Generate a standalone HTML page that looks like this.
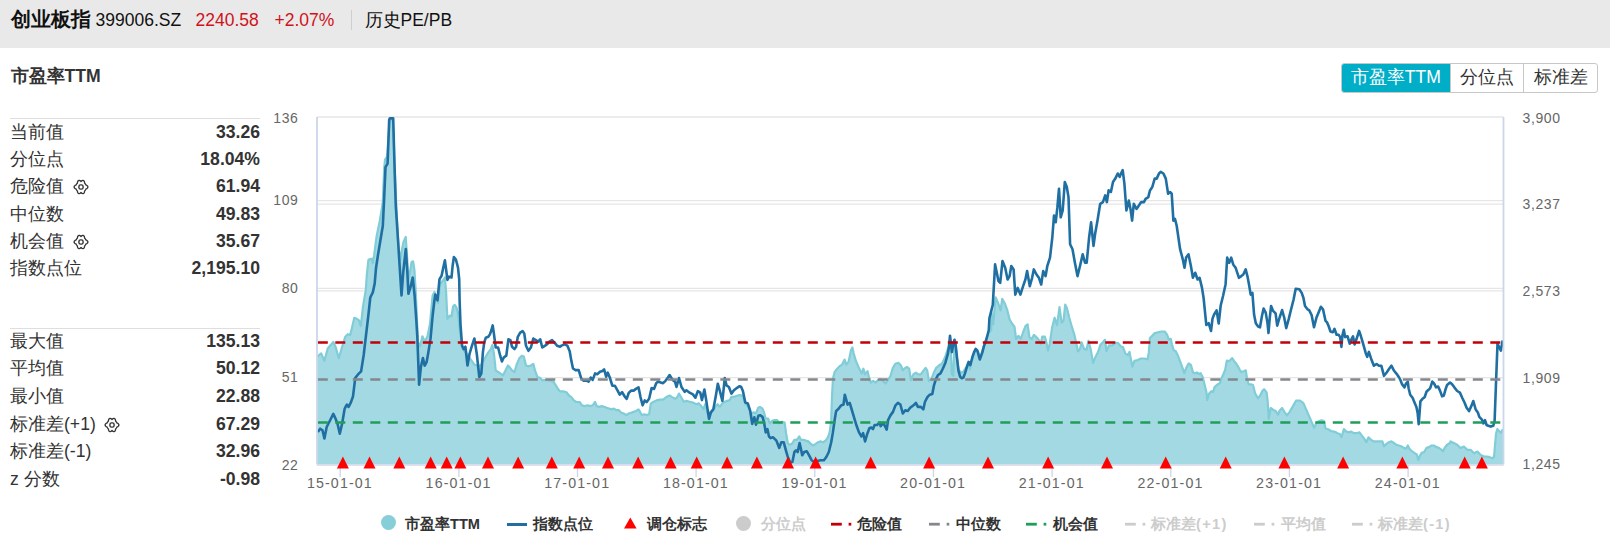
<!DOCTYPE html>
<html><head><meta charset="utf-8"><title>创业板指 历史PE/PB</title>
<style>
*{box-sizing:border-box}
html,body{margin:0;padding:0}
body{width:1610px;height:550px;overflow:hidden;background:#fff;position:relative;font-family:"Liberation Sans",sans-serif;color:#333}
.hd{position:absolute;left:0;top:0;width:1610px;height:48px;background:#e9e9e9}
.hd span{position:absolute;white-space:nowrap;line-height:20px}
.t1{left:11px;top:9px;font-size:20px;font-weight:bold;color:#111}
.t2{left:95.5px;top:10px;font-size:17.5px;color:#111}
.t3{left:195.5px;top:10px;font-size:17.5px;color:#d0121b}
.t4{left:274.5px;top:10px;font-size:17.5px;color:#d0121b}
.sep{position:absolute;left:351px;top:10px;width:1px;height:20px;background:#cfcfcf}
.t5{left:364.5px;top:10px;font-size:17.5px;color:#111}
.ttl{position:absolute;left:10.5px;top:65.5px;font-size:17.6px;font-weight:bold;line-height:20px;white-space:nowrap}
.hr{position:absolute;left:10px;width:250px;height:1px;background:#dedede}
.row{position:absolute;left:10px;width:250px;height:27.35px;line-height:27.35px;font-size:17.6px;white-space:nowrap}
.row .val{position:absolute;right:0;top:0;font-weight:bold}
.row .gear{position:absolute;top:5.2px}
.btns{position:absolute;left:1341px;top:63px;height:30px;border:1px solid #c8c8c8;border-radius:3px;display:flex;overflow:hidden}
.btns div{height:28px;line-height:26.5px;font-size:17.6px;color:#333;text-align:center}
.btns .on{background:#00aec8;color:#fff}
.chart{position:absolute;left:0;top:0}
.axl{font-family:"Liberation Sans",sans-serif;font-size:14px;fill:#666;letter-spacing:0.6px}
.xl{font-size:14.2px;letter-spacing:1.15px}
.lg{position:absolute;top:515px;width:16px;height:16px}
.dot{display:block;width:15px;height:15px;border-radius:50%}
.lgs{position:absolute}
.lt{position:absolute;top:514px;font-size:14.6px;font-weight:bold;line-height:20px;color:#333;white-space:nowrap}
.lt.off{color:#cccccc}
.lt .nb{font-weight:normal}
.lt .ls{letter-spacing:1.3px}
</style></head><body>
<div class="hd">
<span class="t1">创业板指</span>
<span class="t2">399006.SZ</span>
<span class="t3">2240.58</span>
<span class="t4">+2.07%</span>
<div class="sep"></div>
<span class="t5">历史PE/PB</span>
</div>
<div class="ttl">市盈率TTM</div>
<div class="btns"><div class="on" style="width:107.5px">市盈率TTM</div><div style="width:73.5px;border-left:1px solid #c8c8c8">分位点</div><div style="width:74px;border-left:1px solid #c8c8c8">标准差</div></div>
<div class="hr" style="top:118px"></div>
<div class="row" style="top:118.50px"><span class="lab">当前值</span><span class="val">33.26</span></div><div class="row" style="top:145.85px"><span class="lab">分位点</span><span class="val">18.04%</span></div><div class="row" style="top:173.20px"><span class="lab">危险值</span><svg class="gear" style="left:61.9px" width="18" height="18" viewBox="-9 -9 18 18"><path d="M6.90 -0.00 L6.85 -0.36 L6.72 -0.71 L6.50 -1.03 L6.21 -1.32 L5.86 -1.57 L5.47 -1.78 L5.05 -1.94 L4.84 -2.16 L4.72 -2.41 L4.59 -2.65 L4.44 -2.89 L4.29 -3.12 L4.12 -3.34 L3.94 -3.55 L3.75 -3.75 L3.55 -3.94 L3.55 -4.38 L3.51 -4.83 L3.41 -5.25 L3.25 -5.64 L3.04 -5.97 L2.78 -6.24 L2.47 -6.44 L2.13 -6.55 L1.76 -6.57 L1.38 -6.50 L1.01 -6.35 L0.64 -6.13 L0.31 -5.85 L0.00 -5.53 L-0.31 -5.85 L-0.64 -6.13 L-1.01 -6.35 L-1.38 -6.50 L-1.76 -6.57 L-2.13 -6.55 L-2.47 -6.44 L-2.78 -6.24 L-3.04 -5.97 L-3.25 -5.64 L-3.41 -5.25 L-3.51 -4.83 L-3.55 -4.38 L-3.55 -3.94 L-3.75 -3.75 L-3.94 -3.55 L-4.12 -3.34 L-4.29 -3.12 L-4.44 -2.89 L-4.59 -2.65 L-4.72 -2.41 L-4.84 -2.16 L-5.05 -1.94 L-5.47 -1.78 L-5.86 -1.57 L-6.21 -1.32 L-6.50 -1.03 L-6.72 -0.71 L-6.85 -0.36 L-6.90 -0.00 L-6.85 0.36 L-6.72 0.71 L-6.50 1.03 L-6.21 1.32 L-5.86 1.57 L-5.47 1.78 L-5.05 1.94 L-4.84 2.16 L-4.72 2.41 L-4.59 2.65 L-4.44 2.89 L-4.29 3.12 L-4.12 3.34 L-3.94 3.55 L-3.75 3.75 L-3.55 3.94 L-3.55 4.38 L-3.51 4.83 L-3.41 5.25 L-3.25 5.64 L-3.04 5.97 L-2.78 6.24 L-2.47 6.44 L-2.13 6.55 L-1.76 6.57 L-1.38 6.50 L-1.01 6.35 L-0.64 6.13 L-0.31 5.85 L-0.00 5.53 L0.31 5.85 L0.64 6.13 L1.01 6.35 L1.38 6.50 L1.76 6.57 L2.13 6.55 L2.47 6.44 L2.78 6.24 L3.04 5.97 L3.25 5.64 L3.41 5.25 L3.51 4.83 L3.55 4.38 L3.55 3.94 L3.75 3.75 L3.94 3.55 L4.12 3.34 L4.29 3.12 L4.44 2.89 L4.59 2.65 L4.72 2.41 L4.84 2.16 L5.05 1.94 L5.47 1.78 L5.86 1.57 L6.21 1.32 L6.50 1.03 L6.72 0.71 L6.85 0.36 Z" fill="none" stroke="#333" stroke-width="1.3" stroke-linejoin="round"/><rect x="-2.1" y="-2.1" width="4.2" height="4.2" rx="1.7" fill="none" stroke="#333" stroke-width="1.4"/></svg><span class="val">61.94</span></div><div class="row" style="top:200.55px"><span class="lab">中位数</span><span class="val">49.83</span></div><div class="row" style="top:227.90px"><span class="lab">机会值</span><svg class="gear" style="left:61.9px" width="18" height="18" viewBox="-9 -9 18 18"><path d="M6.90 -0.00 L6.85 -0.36 L6.72 -0.71 L6.50 -1.03 L6.21 -1.32 L5.86 -1.57 L5.47 -1.78 L5.05 -1.94 L4.84 -2.16 L4.72 -2.41 L4.59 -2.65 L4.44 -2.89 L4.29 -3.12 L4.12 -3.34 L3.94 -3.55 L3.75 -3.75 L3.55 -3.94 L3.55 -4.38 L3.51 -4.83 L3.41 -5.25 L3.25 -5.64 L3.04 -5.97 L2.78 -6.24 L2.47 -6.44 L2.13 -6.55 L1.76 -6.57 L1.38 -6.50 L1.01 -6.35 L0.64 -6.13 L0.31 -5.85 L0.00 -5.53 L-0.31 -5.85 L-0.64 -6.13 L-1.01 -6.35 L-1.38 -6.50 L-1.76 -6.57 L-2.13 -6.55 L-2.47 -6.44 L-2.78 -6.24 L-3.04 -5.97 L-3.25 -5.64 L-3.41 -5.25 L-3.51 -4.83 L-3.55 -4.38 L-3.55 -3.94 L-3.75 -3.75 L-3.94 -3.55 L-4.12 -3.34 L-4.29 -3.12 L-4.44 -2.89 L-4.59 -2.65 L-4.72 -2.41 L-4.84 -2.16 L-5.05 -1.94 L-5.47 -1.78 L-5.86 -1.57 L-6.21 -1.32 L-6.50 -1.03 L-6.72 -0.71 L-6.85 -0.36 L-6.90 -0.00 L-6.85 0.36 L-6.72 0.71 L-6.50 1.03 L-6.21 1.32 L-5.86 1.57 L-5.47 1.78 L-5.05 1.94 L-4.84 2.16 L-4.72 2.41 L-4.59 2.65 L-4.44 2.89 L-4.29 3.12 L-4.12 3.34 L-3.94 3.55 L-3.75 3.75 L-3.55 3.94 L-3.55 4.38 L-3.51 4.83 L-3.41 5.25 L-3.25 5.64 L-3.04 5.97 L-2.78 6.24 L-2.47 6.44 L-2.13 6.55 L-1.76 6.57 L-1.38 6.50 L-1.01 6.35 L-0.64 6.13 L-0.31 5.85 L-0.00 5.53 L0.31 5.85 L0.64 6.13 L1.01 6.35 L1.38 6.50 L1.76 6.57 L2.13 6.55 L2.47 6.44 L2.78 6.24 L3.04 5.97 L3.25 5.64 L3.41 5.25 L3.51 4.83 L3.55 4.38 L3.55 3.94 L3.75 3.75 L3.94 3.55 L4.12 3.34 L4.29 3.12 L4.44 2.89 L4.59 2.65 L4.72 2.41 L4.84 2.16 L5.05 1.94 L5.47 1.78 L5.86 1.57 L6.21 1.32 L6.50 1.03 L6.72 0.71 L6.85 0.36 Z" fill="none" stroke="#333" stroke-width="1.3" stroke-linejoin="round"/><rect x="-2.1" y="-2.1" width="4.2" height="4.2" rx="1.7" fill="none" stroke="#333" stroke-width="1.4"/></svg><span class="val">35.67</span></div><div class="row" style="top:255.25px"><span class="lab">指数点位</span><span class="val">2,195.10</span></div>
<div class="hr" style="top:327.5px"></div>
<div class="row" style="top:327.80px"><span class="lab">最大值</span><span class="val">135.13</span></div><div class="row" style="top:355.40px"><span class="lab">平均值</span><span class="val">50.12</span></div><div class="row" style="top:383.00px"><span class="lab">最小值</span><span class="val">22.88</span></div><div class="row" style="top:410.60px"><span class="lab">标准差(+1)</span><svg class="gear" style="left:93.2px" width="18" height="18" viewBox="-9 -9 18 18"><path d="M6.90 -0.00 L6.85 -0.36 L6.72 -0.71 L6.50 -1.03 L6.21 -1.32 L5.86 -1.57 L5.47 -1.78 L5.05 -1.94 L4.84 -2.16 L4.72 -2.41 L4.59 -2.65 L4.44 -2.89 L4.29 -3.12 L4.12 -3.34 L3.94 -3.55 L3.75 -3.75 L3.55 -3.94 L3.55 -4.38 L3.51 -4.83 L3.41 -5.25 L3.25 -5.64 L3.04 -5.97 L2.78 -6.24 L2.47 -6.44 L2.13 -6.55 L1.76 -6.57 L1.38 -6.50 L1.01 -6.35 L0.64 -6.13 L0.31 -5.85 L0.00 -5.53 L-0.31 -5.85 L-0.64 -6.13 L-1.01 -6.35 L-1.38 -6.50 L-1.76 -6.57 L-2.13 -6.55 L-2.47 -6.44 L-2.78 -6.24 L-3.04 -5.97 L-3.25 -5.64 L-3.41 -5.25 L-3.51 -4.83 L-3.55 -4.38 L-3.55 -3.94 L-3.75 -3.75 L-3.94 -3.55 L-4.12 -3.34 L-4.29 -3.12 L-4.44 -2.89 L-4.59 -2.65 L-4.72 -2.41 L-4.84 -2.16 L-5.05 -1.94 L-5.47 -1.78 L-5.86 -1.57 L-6.21 -1.32 L-6.50 -1.03 L-6.72 -0.71 L-6.85 -0.36 L-6.90 -0.00 L-6.85 0.36 L-6.72 0.71 L-6.50 1.03 L-6.21 1.32 L-5.86 1.57 L-5.47 1.78 L-5.05 1.94 L-4.84 2.16 L-4.72 2.41 L-4.59 2.65 L-4.44 2.89 L-4.29 3.12 L-4.12 3.34 L-3.94 3.55 L-3.75 3.75 L-3.55 3.94 L-3.55 4.38 L-3.51 4.83 L-3.41 5.25 L-3.25 5.64 L-3.04 5.97 L-2.78 6.24 L-2.47 6.44 L-2.13 6.55 L-1.76 6.57 L-1.38 6.50 L-1.01 6.35 L-0.64 6.13 L-0.31 5.85 L-0.00 5.53 L0.31 5.85 L0.64 6.13 L1.01 6.35 L1.38 6.50 L1.76 6.57 L2.13 6.55 L2.47 6.44 L2.78 6.24 L3.04 5.97 L3.25 5.64 L3.41 5.25 L3.51 4.83 L3.55 4.38 L3.55 3.94 L3.75 3.75 L3.94 3.55 L4.12 3.34 L4.29 3.12 L4.44 2.89 L4.59 2.65 L4.72 2.41 L4.84 2.16 L5.05 1.94 L5.47 1.78 L5.86 1.57 L6.21 1.32 L6.50 1.03 L6.72 0.71 L6.85 0.36 Z" fill="none" stroke="#333" stroke-width="1.3" stroke-linejoin="round"/><rect x="-2.1" y="-2.1" width="4.2" height="4.2" rx="1.7" fill="none" stroke="#333" stroke-width="1.4"/></svg><span class="val">67.29</span></div><div class="row" style="top:438.20px"><span class="lab">标准差(-1)</span><span class="val">32.96</span></div><div class="row" style="top:465.80px"><span class="lab">z 分数</span><span class="val">-0.98</span></div>
<svg class="chart" width="1610" height="550" viewBox="0 0 1610 550">
<g stroke="#e6e6e6" stroke-width="1.3" fill="none"><line x1="317" y1="117" x2="1503.5" y2="117"/><line x1="317" y1="200.7" x2="1503.5" y2="200.7"/><line x1="317" y1="204.2" x2="1503.5" y2="204.2"/><line x1="317" y1="288.4" x2="1503.5" y2="288.4"/><line x1="317" y1="290.9" x2="1503.5" y2="290.9"/><line x1="317" y1="377.6" x2="1503.5" y2="377.6"/><line x1="317" y1="464" x2="1503.5" y2="464"/></g>
<path d="M317.2 464 L317.2 356.7 L321.2 353.4 L324.4 360.9 L327.7 348.5 L331 344.6 L333.3 342 L335.6 346.9 L338.8 358.3 L342.1 346.9 L345.3 336.7 L347.7 334.2 L350.2 335 L351.8 328.5 L354.3 317.8 L356.7 318.7 L358.9 320.3 L360.8 326 L362.8 308 L364.1 299.8 L365.8 290 L366.8 275 L368.4 260 L369.6 259.3 L371.6 258.7 L372.8 263.1 L374.1 255.5 L375.4 245.3 L376.6 236.4 L377.9 230 L379.8 220.8 L382.7 203.3 L384.2 168.3 L385 159.6 L387.1 156.6 L389.4 124.6 L390.5 119.7 L392.9 119.7 L394.5 165 L396.5 210 L398.5 248 L400.3 260 L401.5 252 L403.5 242 L405.7 237 L407.2 258 L408.3 280 L410 272 L411.6 262 L413.1 261.3 L414.4 270 L415.6 289 L418 342 L420 346.5 L422.4 336.3 L424.9 341.4 L427.5 336.3 L430 323.6 L432.6 295.6 L434.5 292 L436.5 298 L438 303 L440.2 284 L442.5 281 L444.9 277.5 L446.1 292 L447.4 318.8 L449.8 315.6 L451.5 316.4 L453.1 306.5 L454.7 304.9 L456.4 307.4 L458 313.1 L459.6 328.7 L462.1 347.5 L464.6 351.6 L467 354 L470.3 358.9 L474.4 364.7 L477.7 365.5 L480.9 365.5 L483.4 360.6 L485.8 356.5 L488.3 352.4 L490.8 349.1 L492.4 345 L494 354 L495.7 370.4 L498.1 372 L500.6 373.7 L503 375.3 L505.5 370.4 L507.9 365.5 L509.6 367.1 L512 370.4 L514.5 372 L516.9 363.9 L519.4 358.1 L521.9 355.7 L523.8 356.5 L526 365.5 L528.4 366.3 L530.9 365.5 L533.3 363.9 L535 370.4 L537.4 377 L539.9 377.8 L542.3 380.2 L544.8 380.2 L548.1 380.2 L551.3 381 L553.8 381.9 L555 384 L557.5 388.1 L559.9 391.4 L563.2 391.4 L566.5 392.2 L568.9 395.5 L571.4 397.1 L573.8 400.4 L576.3 402 L579.6 402 L582 405.3 L584.5 406.1 L587.7 405.3 L590.2 406.1 L592.7 405.3 L595.1 402 L596.7 406.1 L599.2 406.9 L601.7 406.1 L604.1 406.9 L606.6 407.8 L609 408.6 L611.5 409.4 L613.9 408.6 L616.4 410.2 L618.9 410.2 L621.3 412.7 L623.8 413.5 L626.2 415.1 L628.7 413.5 L631.1 412.7 L633.6 411.9 L636 411 L638.5 409.4 L640.1 411.9 L641.8 415.1 L644.2 414.3 L646.7 415.1 L649.1 414.3 L650.8 403.7 L653.2 402 L656.5 400.4 L659.8 399.6 L663.1 399.6 L666.3 397.1 L669.6 395.5 L672.1 397.1 L675 398.8 L676.9 397.7 L679 393.6 L681.5 397.7 L683.9 401.7 L686.4 400.9 L689.6 401.7 L692.9 402.6 L696.2 404.2 L698.7 403.4 L701.1 405.8 L703.6 409.1 L705.2 404.2 L707.7 414 L710.1 412.4 L712.6 410.8 L715 407.5 L717.5 404.2 L719.9 406.7 L722.4 403.4 L724.8 401.7 L727.3 400.9 L729.8 400.1 L731.4 396.8 L733.9 396.8 L736.3 396 L738.8 395.2 L741.2 395.2 L742.9 396.8 L745.3 403.4 L748.6 407.5 L751 414 L753.5 412.4 L756 413.2 L758.4 407.5 L760 407 L762.5 408.7 L764.1 412.7 L765.7 418.5 L768.2 418.5 L769.8 423.4 L772.3 420.9 L774.7 420.1 L777.2 420.1 L779.6 423.4 L782.1 421.7 L784.6 422.6 L786.2 434 L787.8 443 L789.5 444.7 L791.9 443.9 L794.4 439.8 L796.8 439.8 L799.3 436.5 L800.9 439.8 L803.4 439.8 L805.8 440.6 L808.3 441.4 L810.8 443.9 L813.2 445.5 L815.7 443.9 L818.1 442.2 L820.6 441.4 L823 442.2 L825.5 440.6 L827.9 437.3 L829.6 432.4 L831.2 420.9 L832 396.4 L832.9 380 L833.1 377.7 L834.7 371.9 L837.2 368.7 L839.6 366.2 L842.1 364.6 L844.6 359.6 L846.2 364.6 L848.7 361.3 L851.1 349.8 L852.4 347.4 L853.6 353.1 L856 361.3 L858.5 367 L859.3 368.7 L861.7 373.6 L863.4 368.7 L865 374.4 L867.5 371.1 L869.1 377.7 L870.8 382.6 L873.2 380.9 L875.7 382.6 L878.1 380.1 L880.6 379.3 L883 380.9 L885.5 383.4 L888 380.1 L890.4 376 L892.9 367.8 L895.3 363.7 L898.6 362.9 L901 365.4 L902.7 370.3 L904.3 368.7 L906.8 367 L909.2 368.7 L910.9 380.1 L913.3 374.4 L915.8 372.7 L918.2 374.4 L920.7 374.4 L923.1 371.1 L925.6 367.8 L927.2 370.3 L928.9 380.9 L931.3 379.3 L933.8 372.7 L936.2 367.8 L940 364.6 L940.5 365.2 L942.9 361.9 L945.4 356.2 L947 351.3 L948.7 346.4 L950 339.8 L950.6 345.6 L951.9 374.2 L953.3 375.8 L954.4 345.6 L955.2 339.8 L956.9 357.8 L958.5 369.3 L961 372.6 L963.4 371.7 L965.9 367.7 L968.3 362.7 L970 369.3 L971.6 361.1 L973.2 356.2 L975.7 349.6 L978.1 351.3 L979.8 357.8 L982.2 351.3 L984.7 343.1 L987.1 336.5 L989.6 331.6 L991.2 330 L991.4 311.9 L993.2 324.3 L995.6 297.3 L998.1 303 L1000.6 310.4 L1002.2 298.9 L1004.6 303 L1007.1 309.6 L1009.6 319.4 L1012 323.5 L1014.5 326.7 L1016.1 339 L1018.6 335.8 L1020.7 339 L1023 332.5 L1025.6 325.9 L1027.6 324.3 L1029.5 337.4 L1031.7 339 L1033.8 334.9 L1035.8 336.6 L1038.2 339 L1040.7 343.9 L1042.3 336.6 L1044.8 336.6 L1046.4 342.3 L1048 350.5 L1049.7 343.9 L1052.1 327.6 L1054.6 317.7 L1057 325.1 L1059.5 307.1 L1061.6 322.7 L1063.6 320.2 L1065.2 304.6 L1066.9 307.9 L1069.3 317.7 L1071.8 326.7 L1074.2 334.1 L1075.9 341.5 L1078 351.3 L1080 348.9 L1081.6 342.3 L1084.1 348.9 L1086.5 349.7 L1088.5 340.7 L1090.6 348.9 L1093.1 362.8 L1095.5 357 L1098 352.1 L1100.4 344.8 L1102.9 342.3 L1105 339.8 L1106.5 351.1 L1109 345.4 L1112.3 345.4 L1115.6 342.9 L1118 342.9 L1120.5 346.2 L1122.9 347 L1125.4 353.6 L1127.8 355.2 L1129.5 351.9 L1131.1 360.1 L1132.4 366.7 L1134.4 360.9 L1137.7 360.1 L1140.9 358.5 L1144.2 358.5 L1147.5 359.3 L1148.8 352.7 L1149.9 338 L1152.4 335.6 L1154.8 333.1 L1158.1 332.3 L1161.4 331.5 L1164.7 331.5 L1167.1 334.7 L1168.8 339.6 L1170.7 338.8 L1172 344.6 L1173.7 350.3 L1175.6 351.1 L1177.8 355.2 L1180.2 361.7 L1182.7 368.3 L1184.3 373.2 L1186.4 367.5 L1188.7 363.4 L1190.9 365 L1193 372.4 L1195 373.2 L1196.9 372.4 L1199.1 374 L1200.7 373.2 L1202.8 377.3 L1204.8 385.5 L1206.4 392 L1207.2 400.2 L1208.9 393.7 L1211.3 391.2 L1213 392 L1214.6 387.1 L1217.1 384.7 L1220 383 L1220.7 380.2 L1223.2 374.5 L1225.2 369.6 L1226.8 360.6 L1228.9 361.4 L1230.6 359.7 L1232.2 358.1 L1233.8 360.6 L1236.3 363.8 L1237.9 366.3 L1239.6 369.6 L1241.2 372 L1243.7 371.2 L1245.8 370.4 L1246.9 377.7 L1248.6 384.3 L1251 384.3 L1253 385.1 L1255.1 393.3 L1257.9 398.2 L1260 395.8 L1262.5 390.8 L1264.1 389.2 L1266.6 392.5 L1267.7 401.5 L1268.7 418.7 L1270.7 408 L1273.1 409.7 L1275.9 411.3 L1278 414.6 L1279.7 410.5 L1282.1 408 L1284.6 412.1 L1287 415.4 L1289.5 412.1 L1292.8 406.4 L1296 400.7 L1300.1 400.7 L1303.4 403.1 L1305.9 408.9 L1309.1 416.2 L1311.6 421.9 L1314.1 427.7 L1316.5 422.8 L1319 421.1 L1321.4 420.3 L1323.9 421.1 L1325.5 428.5 L1328 429.3 L1331.2 431 L1335 431.8 L1337.4 433.2 L1339.8 434 L1341.5 437.3 L1343.9 429.1 L1346.4 431.6 L1348.8 432.4 L1351.3 431.6 L1353.7 433.2 L1356.2 433.2 L1359.5 432.4 L1361.9 435.7 L1364.4 438.9 L1366.3 442.2 L1368.5 437.3 L1370.9 439.8 L1373.4 441.4 L1376.7 441.4 L1379.9 441.4 L1382.4 441.4 L1384 446.3 L1386.5 443.9 L1388.9 442.2 L1391.4 441.4 L1393.9 443 L1396.3 444.7 L1398.8 445.5 L1401.2 446.3 L1403.7 447.9 L1406.1 448.8 L1407.8 445.5 L1409.4 448.8 L1411.9 451.2 L1414.3 452.9 L1416.8 454.5 L1418.4 460.2 L1419.7 456.1 L1421.7 452.9 L1424.1 452 L1426.6 447.9 L1429.1 447.1 L1431.5 445.5 L1434 445.5 L1436.4 447.1 L1438.9 447.9 L1441.3 449.6 L1443 451.2 L1444.6 447.9 L1447.1 444.7 L1450 443 L1450.5 441.4 L1453.8 443.1 L1457.2 444.8 L1460.5 448.1 L1463.9 446.5 L1467.3 449.8 L1470.6 449.8 L1474 453.2 L1477.4 451.5 L1480.7 454.9 L1484.1 456.6 L1486.8 456.6 L1489.1 456.9 L1492.4 458.2 L1494 456.9 L1496 434 L1497.3 429.1 L1498.9 430.7 L1500.9 432.7 L1503 429.1 L1503 464 Z" fill="#a2d9e2" stroke="none"/>
<path d="M317.2 356.7 L321.2 353.4 L324.4 360.9 L327.7 348.5 L331 344.6 L333.3 342 L335.6 346.9 L338.8 358.3 L342.1 346.9 L345.3 336.7 L347.7 334.2 L350.2 335 L351.8 328.5 L354.3 317.8 L356.7 318.7 L358.9 320.3 L360.8 326 L362.8 308 L364.1 299.8 L365.8 290 L366.8 275 L368.4 260 L369.6 259.3 L371.6 258.7 L372.8 263.1 L374.1 255.5 L375.4 245.3 L376.6 236.4 L377.9 230 L379.8 220.8 L382.7 203.3 L384.2 168.3 L385 159.6 L387.1 156.6 L389.4 124.6 L390.5 119.7 L392.9 119.7 L394.5 165 L396.5 210 L398.5 248 L400.3 260 L401.5 252 L403.5 242 L405.7 237 L407.2 258 L408.3 280 L410 272 L411.6 262 L413.1 261.3 L414.4 270 L415.6 289 L418 342 L420 346.5 L422.4 336.3 L424.9 341.4 L427.5 336.3 L430 323.6 L432.6 295.6 L434.5 292 L436.5 298 L438 303 L440.2 284 L442.5 281 L444.9 277.5 L446.1 292 L447.4 318.8 L449.8 315.6 L451.5 316.4 L453.1 306.5 L454.7 304.9 L456.4 307.4 L458 313.1 L459.6 328.7 L462.1 347.5 L464.6 351.6 L467 354 L470.3 358.9 L474.4 364.7 L477.7 365.5 L480.9 365.5 L483.4 360.6 L485.8 356.5 L488.3 352.4 L490.8 349.1 L492.4 345 L494 354 L495.7 370.4 L498.1 372 L500.6 373.7 L503 375.3 L505.5 370.4 L507.9 365.5 L509.6 367.1 L512 370.4 L514.5 372 L516.9 363.9 L519.4 358.1 L521.9 355.7 L523.8 356.5 L526 365.5 L528.4 366.3 L530.9 365.5 L533.3 363.9 L535 370.4 L537.4 377 L539.9 377.8 L542.3 380.2 L544.8 380.2 L548.1 380.2 L551.3 381 L553.8 381.9 L555 384 L557.5 388.1 L559.9 391.4 L563.2 391.4 L566.5 392.2 L568.9 395.5 L571.4 397.1 L573.8 400.4 L576.3 402 L579.6 402 L582 405.3 L584.5 406.1 L587.7 405.3 L590.2 406.1 L592.7 405.3 L595.1 402 L596.7 406.1 L599.2 406.9 L601.7 406.1 L604.1 406.9 L606.6 407.8 L609 408.6 L611.5 409.4 L613.9 408.6 L616.4 410.2 L618.9 410.2 L621.3 412.7 L623.8 413.5 L626.2 415.1 L628.7 413.5 L631.1 412.7 L633.6 411.9 L636 411 L638.5 409.4 L640.1 411.9 L641.8 415.1 L644.2 414.3 L646.7 415.1 L649.1 414.3 L650.8 403.7 L653.2 402 L656.5 400.4 L659.8 399.6 L663.1 399.6 L666.3 397.1 L669.6 395.5 L672.1 397.1 L675 398.8 L676.9 397.7 L679 393.6 L681.5 397.7 L683.9 401.7 L686.4 400.9 L689.6 401.7 L692.9 402.6 L696.2 404.2 L698.7 403.4 L701.1 405.8 L703.6 409.1 L705.2 404.2 L707.7 414 L710.1 412.4 L712.6 410.8 L715 407.5 L717.5 404.2 L719.9 406.7 L722.4 403.4 L724.8 401.7 L727.3 400.9 L729.8 400.1 L731.4 396.8 L733.9 396.8 L736.3 396 L738.8 395.2 L741.2 395.2 L742.9 396.8 L745.3 403.4 L748.6 407.5 L751 414 L753.5 412.4 L756 413.2 L758.4 407.5 L760 407 L762.5 408.7 L764.1 412.7 L765.7 418.5 L768.2 418.5 L769.8 423.4 L772.3 420.9 L774.7 420.1 L777.2 420.1 L779.6 423.4 L782.1 421.7 L784.6 422.6 L786.2 434 L787.8 443 L789.5 444.7 L791.9 443.9 L794.4 439.8 L796.8 439.8 L799.3 436.5 L800.9 439.8 L803.4 439.8 L805.8 440.6 L808.3 441.4 L810.8 443.9 L813.2 445.5 L815.7 443.9 L818.1 442.2 L820.6 441.4 L823 442.2 L825.5 440.6 L827.9 437.3 L829.6 432.4 L831.2 420.9 L832 396.4 L832.9 380 L833.1 377.7 L834.7 371.9 L837.2 368.7 L839.6 366.2 L842.1 364.6 L844.6 359.6 L846.2 364.6 L848.7 361.3 L851.1 349.8 L852.4 347.4 L853.6 353.1 L856 361.3 L858.5 367 L859.3 368.7 L861.7 373.6 L863.4 368.7 L865 374.4 L867.5 371.1 L869.1 377.7 L870.8 382.6 L873.2 380.9 L875.7 382.6 L878.1 380.1 L880.6 379.3 L883 380.9 L885.5 383.4 L888 380.1 L890.4 376 L892.9 367.8 L895.3 363.7 L898.6 362.9 L901 365.4 L902.7 370.3 L904.3 368.7 L906.8 367 L909.2 368.7 L910.9 380.1 L913.3 374.4 L915.8 372.7 L918.2 374.4 L920.7 374.4 L923.1 371.1 L925.6 367.8 L927.2 370.3 L928.9 380.9 L931.3 379.3 L933.8 372.7 L936.2 367.8 L940 364.6 L940.5 365.2 L942.9 361.9 L945.4 356.2 L947 351.3 L948.7 346.4 L950 339.8 L950.6 345.6 L951.9 374.2 L953.3 375.8 L954.4 345.6 L955.2 339.8 L956.9 357.8 L958.5 369.3 L961 372.6 L963.4 371.7 L965.9 367.7 L968.3 362.7 L970 369.3 L971.6 361.1 L973.2 356.2 L975.7 349.6 L978.1 351.3 L979.8 357.8 L982.2 351.3 L984.7 343.1 L987.1 336.5 L989.6 331.6 L991.2 330 L991.4 311.9 L993.2 324.3 L995.6 297.3 L998.1 303 L1000.6 310.4 L1002.2 298.9 L1004.6 303 L1007.1 309.6 L1009.6 319.4 L1012 323.5 L1014.5 326.7 L1016.1 339 L1018.6 335.8 L1020.7 339 L1023 332.5 L1025.6 325.9 L1027.6 324.3 L1029.5 337.4 L1031.7 339 L1033.8 334.9 L1035.8 336.6 L1038.2 339 L1040.7 343.9 L1042.3 336.6 L1044.8 336.6 L1046.4 342.3 L1048 350.5 L1049.7 343.9 L1052.1 327.6 L1054.6 317.7 L1057 325.1 L1059.5 307.1 L1061.6 322.7 L1063.6 320.2 L1065.2 304.6 L1066.9 307.9 L1069.3 317.7 L1071.8 326.7 L1074.2 334.1 L1075.9 341.5 L1078 351.3 L1080 348.9 L1081.6 342.3 L1084.1 348.9 L1086.5 349.7 L1088.5 340.7 L1090.6 348.9 L1093.1 362.8 L1095.5 357 L1098 352.1 L1100.4 344.8 L1102.9 342.3 L1105 339.8 L1106.5 351.1 L1109 345.4 L1112.3 345.4 L1115.6 342.9 L1118 342.9 L1120.5 346.2 L1122.9 347 L1125.4 353.6 L1127.8 355.2 L1129.5 351.9 L1131.1 360.1 L1132.4 366.7 L1134.4 360.9 L1137.7 360.1 L1140.9 358.5 L1144.2 358.5 L1147.5 359.3 L1148.8 352.7 L1149.9 338 L1152.4 335.6 L1154.8 333.1 L1158.1 332.3 L1161.4 331.5 L1164.7 331.5 L1167.1 334.7 L1168.8 339.6 L1170.7 338.8 L1172 344.6 L1173.7 350.3 L1175.6 351.1 L1177.8 355.2 L1180.2 361.7 L1182.7 368.3 L1184.3 373.2 L1186.4 367.5 L1188.7 363.4 L1190.9 365 L1193 372.4 L1195 373.2 L1196.9 372.4 L1199.1 374 L1200.7 373.2 L1202.8 377.3 L1204.8 385.5 L1206.4 392 L1207.2 400.2 L1208.9 393.7 L1211.3 391.2 L1213 392 L1214.6 387.1 L1217.1 384.7 L1220 383 L1220.7 380.2 L1223.2 374.5 L1225.2 369.6 L1226.8 360.6 L1228.9 361.4 L1230.6 359.7 L1232.2 358.1 L1233.8 360.6 L1236.3 363.8 L1237.9 366.3 L1239.6 369.6 L1241.2 372 L1243.7 371.2 L1245.8 370.4 L1246.9 377.7 L1248.6 384.3 L1251 384.3 L1253 385.1 L1255.1 393.3 L1257.9 398.2 L1260 395.8 L1262.5 390.8 L1264.1 389.2 L1266.6 392.5 L1267.7 401.5 L1268.7 418.7 L1270.7 408 L1273.1 409.7 L1275.9 411.3 L1278 414.6 L1279.7 410.5 L1282.1 408 L1284.6 412.1 L1287 415.4 L1289.5 412.1 L1292.8 406.4 L1296 400.7 L1300.1 400.7 L1303.4 403.1 L1305.9 408.9 L1309.1 416.2 L1311.6 421.9 L1314.1 427.7 L1316.5 422.8 L1319 421.1 L1321.4 420.3 L1323.9 421.1 L1325.5 428.5 L1328 429.3 L1331.2 431 L1335 431.8 L1337.4 433.2 L1339.8 434 L1341.5 437.3 L1343.9 429.1 L1346.4 431.6 L1348.8 432.4 L1351.3 431.6 L1353.7 433.2 L1356.2 433.2 L1359.5 432.4 L1361.9 435.7 L1364.4 438.9 L1366.3 442.2 L1368.5 437.3 L1370.9 439.8 L1373.4 441.4 L1376.7 441.4 L1379.9 441.4 L1382.4 441.4 L1384 446.3 L1386.5 443.9 L1388.9 442.2 L1391.4 441.4 L1393.9 443 L1396.3 444.7 L1398.8 445.5 L1401.2 446.3 L1403.7 447.9 L1406.1 448.8 L1407.8 445.5 L1409.4 448.8 L1411.9 451.2 L1414.3 452.9 L1416.8 454.5 L1418.4 460.2 L1419.7 456.1 L1421.7 452.9 L1424.1 452 L1426.6 447.9 L1429.1 447.1 L1431.5 445.5 L1434 445.5 L1436.4 447.1 L1438.9 447.9 L1441.3 449.6 L1443 451.2 L1444.6 447.9 L1447.1 444.7 L1450 443 L1450.5 441.4 L1453.8 443.1 L1457.2 444.8 L1460.5 448.1 L1463.9 446.5 L1467.3 449.8 L1470.6 449.8 L1474 453.2 L1477.4 451.5 L1480.7 454.9 L1484.1 456.6 L1486.8 456.6 L1489.1 456.9 L1492.4 458.2 L1494 456.9 L1496 434 L1497.3 429.1 L1498.9 430.7 L1500.9 432.7 L1503 429.1" fill="none" stroke="#80cdd8" stroke-width="2.2" stroke-linejoin="round"/>
<path d="M317.9 431.9 L320.2 428.7 L322.5 430.3 L324.4 438.5 L326.7 427 L330 420.5 L333.3 413.9 L335.6 418.8 L337.5 423.7 L339.8 433.6 L342.1 423.7 L344.6 409 L345.5 407 L346.9 404.6 L348.6 407 L351 402.1 L353 396.4 L354.6 383.3 L355.2 378 L357.8 374.7 L361.1 371.4 L363.7 355 L366 335.4 L368.3 315.8 L370.3 297.5 L372.8 292.4 L374.7 283.5 L376 268.2 L377.9 255.5 L379.8 244 L381.7 232.5 L382.8 226 L384.2 197.5 L385.5 167.2 L387.6 163.6 L389.2 119.5 L389.8 118.4 L393.2 118.4 L394.6 168.3 L395.8 206.2 L398.1 241.2 L400.2 275 L401.5 295.5 L403.2 272.5 L405.8 249 L407.3 270.9 L408.4 293.8 L410.5 287.3 L412.7 277.5 L414.6 295.5 L416.3 320 L417.3 336.3 L419.1 384.7 L420.9 366.9 L422.9 358 L424.7 365.6 L426.7 361.8 L428.5 351.6 L430.5 338.9 L432.6 316 L434.4 300.7 L435.3 294.6 L437.5 300.4 L439.5 279.1 L441.6 275.8 L443.3 267.6 L444.9 260.3 L446.1 269.3 L447.4 279.9 L449 276.6 L451.5 277.5 L452.6 266 L453.9 257 L455.9 259.5 L458 267.6 L459.2 279.1 L459.6 300 L460.5 324.6 L462.1 345.8 L463.7 349.1 L465.4 346.7 L467.5 365.5 L469.5 354 L471.9 345.8 L474.4 338.5 L476.8 354 L479.3 377 L481.3 373.7 L482.9 352.4 L484.2 342.6 L485.8 337.7 L488.3 336.8 L489.9 334.4 L491.6 329.5 L492.7 325.4 L494 334.4 L495.7 347.5 L498.1 347.5 L500.2 355.7 L501.9 361.4 L503.9 357.3 L506.3 355.7 L508.4 339.3 L510.4 340.1 L512 346.7 L514.5 349.1 L516.1 346.7 L517.8 336.8 L520.2 332.7 L522.7 331.1 L524.3 333.6 L526 345.8 L528.4 350.8 L530.9 347.5 L533.3 338.5 L535.8 340.1 L538.2 341.7 L540.2 339.3 L542.3 347.5 L544.8 345.8 L547.2 344.2 L549.4 341.7 L552.1 340.1 L554.6 342.6 L557.1 345.8 L560 346.7 L561.5 345.6 L564.8 344.4 L567.3 345.6 L569.7 351.3 L571.4 361.1 L573 368.5 L575.5 370.1 L578.7 370.1 L581.2 378.3 L583.7 380.8 L586.9 380.8 L588.6 381.6 L590.7 377.5 L592.7 379.9 L595.1 373.4 L597.2 374.2 L600 371.7 L602.5 370.9 L604.1 369.3 L606.1 376.7 L607.7 372.6 L609.8 377.5 L612.3 385.7 L614.8 385.7 L617.2 389.8 L619.7 394.7 L622.1 392.2 L624.6 396.3 L626.7 398.8 L628.7 393 L631.1 390.6 L633.6 390.6 L636 388.9 L638.5 387.3 L640.5 397.1 L642.6 405.3 L644.7 400.4 L646.7 402 L649.1 398.8 L651.6 388.1 L654.1 388.9 L656.2 383.2 L658.1 381.6 L660.6 382.4 L663.1 383.2 L665.5 380.8 L668 377.5 L669.6 375 L671.6 378.3 L673.7 380.8 L675 381.6 L676.5 387 L679 378 L681.5 387 L684.7 391.9 L686.4 390.3 L689.6 392.7 L692.9 394.4 L695.4 397.7 L697.8 391.1 L700.3 392.7 L701.9 400.1 L704.4 389.5 L706.3 400.9 L709 418.9 L710.9 412.4 L713.4 409.1 L715.8 396 L717.8 383.7 L719.9 391.1 L722.4 400.9 L724.8 378 L726.5 385.4 L728.9 387 L731.4 393.6 L733.9 390.3 L737.1 387.8 L739.6 386.2 L741.2 387 L742.9 391.1 L745.3 402.6 L747.8 403.4 L750.2 410.8 L752.2 423.9 L754.3 417.3 L756 424.7 L758.4 415.7 L760 415.2 L762.5 416.8 L764.1 422.6 L765.7 432.4 L767.4 429.1 L769 436.5 L770.6 438.1 L773.1 437.3 L776.4 440.6 L778 444.7 L779.3 447.9 L781.3 442.2 L783.7 442.2 L785.9 450.4 L787.8 457 L790.3 462.7 L792.4 461.9 L794.4 452 L796 450.4 L797.7 452 L799.6 443 L800.9 448.8 L802.2 455.3 L804.2 452 L806.7 451.2 L809.1 455.3 L811.6 460.2 L814 461.9 L817.3 461 L820.6 460.2 L823.9 460.2 L826.3 457 L828.8 452 L831.2 442.2 L832.9 432.4 L834.5 420.9 L836.1 411.1 L838.6 408.7 L841 405.4 L843.5 404.6 L844.8 394.7 L846 398.8 L847.6 404.6 L849.7 402.9 L851.7 409.5 L854.1 417.7 L856.6 425.8 L859 432.4 L861.5 436.5 L863.1 433.2 L865.1 441.4 L867.2 434 L869.4 428.3 L871.3 427.5 L873 429.1 L874.6 425 L877.1 425 L878.7 423.4 L880 422.6 L880.6 426.3 L883.3 422.9 L886.7 429.6 L888.1 420 L890.6 415.1 L893 411.9 L895.5 405.3 L897.9 402.9 L900.4 404.5 L902.8 413.5 L905.3 410.2 L907.7 411 L910.2 407.8 L913.5 405.3 L915.9 402.9 L917.9 406.9 L920.8 406.9 L923.3 409.4 L924.9 402 L927.4 397.1 L929.8 394.7 L932.3 393.9 L933.9 385.7 L935.9 379.1 L938 375 L940.5 373.4 L942.9 368.5 L945.4 362.7 L947.9 353.7 L949 346.4 L950 335.7 L950.8 342.3 L951.9 352.1 L953.3 344.7 L954.4 339.8 L955.6 344.7 L956.9 357 L958.5 370.9 L960.1 376.7 L961.8 378.3 L963.4 377.5 L965 373.4 L966.7 367.7 L968.6 361.9 L970.3 365.2 L972.4 357 L974.1 352.1 L975.7 348.8 L977.3 350.5 L979.8 359.5 L982.2 352.9 L983.9 346.4 L986.3 339.8 L988.8 330 L989.4 318.2 L992.8 304.7 L995.1 264.4 L996.8 272.8 L998.5 281.2 L1000.2 282.9 L1002.5 261 L1005.2 267.7 L1007.6 279.5 L1009.6 276.1 L1011.3 266 L1013.6 269.4 L1015.3 294.6 L1017.7 287.9 L1020.4 294.6 L1023.1 286.2 L1025.4 279.5 L1027.1 271.1 L1029.8 286.2 L1032.1 277.8 L1033.8 269.4 L1036.5 274.5 L1038.9 277.8 L1041.2 284.5 L1043.2 271.1 L1045.6 276.1 L1047.3 266 L1050 257.6 L1052.3 237.5 L1054 215.6 L1055.7 222.3 L1057.4 207.2 L1059 188.7 L1060.7 217.3 L1062.7 210.5 L1064.8 182 L1066.8 187 L1068.5 197.1 L1070.1 244.2 L1072.5 249.2 L1074.9 262.7 L1077.5 276.1 L1080 266 L1082.7 254.3 L1085 262.7 L1086.7 262.7 L1089.1 237.5 L1091.1 222.3 L1093.5 245.9 L1095.1 234.1 L1097.5 220.6 L1100.2 203.8 L1102.9 202.1 L1105.2 195.4 L1106.9 202.1 L1108.6 190.4 L1110.9 192 L1113 182 L1115.3 178.6 L1117.7 173.5 L1119.7 176.9 L1121 173.5 L1122.7 170.2 L1124.4 183.6 L1126.4 210.5 L1128.8 200.5 L1130.5 208.9 L1132.1 220.6 L1133.8 203.8 L1136.5 208.9 L1138.9 205.5 L1141.2 202.1 L1143.9 202.1 L1145.6 198.8 L1148.3 197.1 L1150 190.4 L1152.3 187 L1154.7 178.6 L1156.7 178.6 L1159 173.5 L1160.7 171.9 L1163.4 173.5 L1165.8 178.6 L1168.1 193.7 L1170 192 L1171.7 193.7 L1173.4 220.6 L1175 219 L1176.7 225.7 L1178.4 237.5 L1180.1 249.2 L1182.8 259.3 L1184.5 267.7 L1186.1 257.6 L1188.5 254.3 L1190.9 266 L1192.9 277.8 L1195.2 272.8 L1197.6 279.5 L1199.6 277.8 L1202 287.9 L1203.6 298 L1206.3 324.9 L1208.7 323.2 L1211 331 L1212.5 318.6 L1214.1 314.5 L1216.6 310.4 L1218.7 323.5 L1220.7 305.5 L1223.1 295.7 L1225.6 284.2 L1227.2 257.6 L1229.2 262.7 L1231.2 257.6 L1233.2 264.4 L1235.6 267.7 L1237.3 272.8 L1239 277.8 L1241.3 276.1 L1243.3 274.5 L1245.7 269.4 L1247.4 276.1 L1249 284.5 L1250.7 294.6 L1252.4 293 L1254.1 314.8 L1255.8 323.2 L1258.1 326.6 L1260 327.3 L1262 315.8 L1263.6 308.5 L1265.7 312.6 L1267.4 322.4 L1268.5 333 L1269.8 317.5 L1271.1 306 L1273.1 310.9 L1275.6 313.4 L1277.2 325.7 L1279.6 317.5 L1282.1 310.1 L1284.2 317.5 L1286.2 328.1 L1288.7 319.1 L1291.1 309.3 L1293.6 299.5 L1295.7 288.8 L1299.3 289.3 L1301.7 292.9 L1303.4 297.8 L1305 306 L1307.5 309.3 L1309.1 310.1 L1311.6 315 L1314 327.3 L1316.5 317.5 L1318.9 311.7 L1320.9 306.8 L1323 309.3 L1325.5 320.8 L1327.1 322.4 L1328.8 326.5 L1330.4 331.4 L1332.9 332.2 L1334.5 328.9 L1336.6 334.7 L1338.6 334.7 L1340.2 337.1 L1341.4 346.9 L1342.4 335.5 L1343.8 329.8 L1345.1 337.1 L1347.6 336.3 L1349.7 343.7 L1351.7 338.8 L1353 336.3 L1354.6 344.5 L1356.6 338.8 L1359.1 330.9 L1360.7 335.5 L1363.1 343.7 L1365.6 352.7 L1367.2 356.8 L1368.9 351.9 L1371.3 359.2 L1373.9 365.7 L1376.6 364 L1379 365.7 L1381.3 365.7 L1384 375.8 L1386.7 372.5 L1389 369.1 L1391.4 365.7 L1394.1 370.8 L1396.8 374.1 L1399.1 377.5 L1400.4 380 L1402 384.1 L1404.5 387.4 L1406.1 383.3 L1407.8 381.6 L1408.6 388.2 L1410.2 394.7 L1412.7 398 L1414.3 402.1 L1416.4 407 L1417.6 412.7 L1418.7 424.2 L1419.7 411.1 L1420.4 401.3 L1422.5 398.8 L1424.6 397.2 L1426.6 391.5 L1428.6 389.8 L1430.2 388.2 L1432.3 381.6 L1434 383.3 L1436.1 387.4 L1438.1 386.5 L1440 390.6 L1442.1 396.4 L1443.8 395.6 L1445.4 389.8 L1447.1 384.9 L1450 382.5 L1452.1 384.2 L1454.5 387.6 L1457.2 391 L1459.9 392.6 L1462.2 397.7 L1464.6 402.7 L1466.6 407.8 L1469 411.1 L1471.3 406.1 L1473.3 401 L1475.7 409.5 L1478 412.8 L1479.3 416.8 L1481.7 419.3 L1483.4 423.4 L1485 420.1 L1486.6 425 L1488.3 425.8 L1490.7 426.6 L1493.2 425.8 L1494.6 421 L1495.9 385.9 L1497.5 343.9 L1499.2 347.2 L1500.9 350.6 L1502.6 340.5" fill="none" stroke="#1f6fa3" stroke-width="2.6" stroke-linejoin="round"/>
<g stroke-width="2.5" stroke-dasharray="10 7.5" stroke-dashoffset="-0.8" fill="none">
<line x1="317" y1="342.6" x2="1503.5" y2="342.6" stroke="#c20008"/>
<line x1="317" y1="379.4" x2="1503.5" y2="379.4" stroke="#85878c"/>
<line x1="317" y1="422.6" x2="1503.5" y2="422.6" stroke="#1f9e58"/>
</g>
<g stroke="#ccd6eb" stroke-width="1.3" fill="none">
<line x1="317" y1="117" x2="317" y2="464.6" stroke-width="1.8"/>
<line x1="1503.5" y1="117" x2="1503.5" y2="464.6" stroke-width="1.8"/>
<line x1="317" y1="465" x2="1503.5" y2="465" stroke-width="1.6" stroke="#d3d8ea"/>
<line x1="340.2" y1="465" x2="340.2" y2="477"/><line x1="458.9" y1="465" x2="458.9" y2="477"/><line x1="577.5" y1="465" x2="577.5" y2="477"/><line x1="696.1" y1="465" x2="696.1" y2="477"/><line x1="814.8" y1="465" x2="814.8" y2="477"/><line x1="933.4" y1="465" x2="933.4" y2="477"/><line x1="1052.1" y1="465" x2="1052.1" y2="477"/><line x1="1170.8" y1="465" x2="1170.8" y2="477"/><line x1="1289.4" y1="465" x2="1289.4" y2="477"/><line x1="1408.1" y1="465" x2="1408.1" y2="477"/>
</g>
<g fill="#ff0000"><path d="M342.9 456.5 L348.9 468.6 L336.9 468.6 Z"/><path d="M369.5 456.5 L375.5 468.6 L363.5 468.6 Z"/><path d="M399.3 456.5 L405.3 468.6 L393.3 468.6 Z"/><path d="M430.6 456.5 L436.6 468.6 L424.6 468.6 Z"/><path d="M446.7 456.5 L452.7 468.6 L440.7 468.6 Z"/><path d="M460.4 456.5 L466.4 468.6 L454.4 468.6 Z"/><path d="M488 456.5 L494 468.6 L482 468.6 Z"/><path d="M518.1 456.5 L524.1 468.6 L512.1 468.6 Z"/><path d="M551.8 456.5 L557.8 468.6 L545.8 468.6 Z"/><path d="M579.2 456.5 L585.2 468.6 L573.2 468.6 Z"/><path d="M608 456.5 L614 468.6 L602 468.6 Z"/><path d="M638.1 456.5 L644.1 468.6 L632.1 468.6 Z"/><path d="M670.6 456.5 L676.6 468.6 L664.6 468.6 Z"/><path d="M696.7 456.5 L702.7 468.6 L690.7 468.6 Z"/><path d="M727.1 456.5 L733.1 468.6 L721.1 468.6 Z"/><path d="M756.9 456.5 L762.9 468.6 L750.9 468.6 Z"/><path d="M788 456.5 L794 468.6 L782 468.6 Z"/><path d="M815.6 456.5 L821.6 468.6 L809.6 468.6 Z"/><path d="M870.7 456.5 L876.7 468.6 L864.7 468.6 Z"/><path d="M929.1 456.5 L935.1 468.6 L923.1 468.6 Z"/><path d="M988 456.5 L994 468.6 L982 468.6 Z"/><path d="M1048.1 456.5 L1054.1 468.6 L1042.1 468.6 Z"/><path d="M1107 456.5 L1113 468.6 L1101 468.6 Z"/><path d="M1165.7 456.5 L1171.7 468.6 L1159.7 468.6 Z"/><path d="M1225.7 456.5 L1231.7 468.6 L1219.7 468.6 Z"/><path d="M1284.4 456.5 L1290.4 468.6 L1278.4 468.6 Z"/><path d="M1343.1 456.5 L1349.1 468.6 L1337.1 468.6 Z"/><path d="M1402.4 456.5 L1408.4 468.6 L1396.4 468.6 Z"/><path d="M1464.7 456.5 L1470.7 468.6 L1458.7 468.6 Z"/><path d="M1481.9 456.5 L1487.9 468.6 L1475.9 468.6 Z"/></g>
<g class="axl" text-anchor="end"><text x="298.5" y="123">136</text><text x="298.5" y="204.9">109</text><text x="298.5" y="292.9">80</text><text x="298.5" y="381.9">51</text><text x="298.5" y="469.7">22</text></g>
<g class="axl" text-anchor="start"><text x="1522.5" y="123">3,900</text><text x="1522.5" y="208.9">3,237</text><text x="1522.5" y="296">2,573</text><text x="1522.5" y="383">1,909</text><text x="1522.5" y="468.9">1,245</text></g>
<g class="axl xl" text-anchor="middle"><text x="339.9" y="488">15-01-01</text><text x="458.6" y="488">16-01-01</text><text x="577.2" y="488">17-01-01</text><text x="695.9" y="488">18-01-01</text><text x="814.5" y="488">19-01-01</text><text x="933.1" y="488">20-01-01</text><text x="1051.8" y="488">21-01-01</text><text x="1170.5" y="488">22-01-01</text><text x="1289.1" y="488">23-01-01</text><text x="1407.8" y="488">24-01-01</text></g>
</svg>
<div class="lg" style="left:381.1px;top:515.3px"><span class="dot" style="background:#86cfd8"></span></div><div class="lt" style="left:405px">市盈率TTM</div><div class="lg" style="left:507px;top:522.9px;width:20px;height:2.7px;background:#1f6fa3"></div><div class="lt" style="left:533px">指数点位</div><svg class="lgs" style="left:624px;top:517px" width="13" height="12"><path d="M6.3 0.6 L12.6 11.6 L0 11.6 Z" fill="#ff0000"/></svg><div class="lt" style="left:647px">调仓标志</div><div class="lg" style="left:736px;top:515.5px"><span class="dot" style="background:#cccccc"></span></div><div class="lt off" style="left:760.5px">分位点</div><svg class="lgs" style="left:830.9px;top:520px" width="24" height="8"><line x1="0" y1="4.2" x2="10.8" y2="4.2" stroke="#c20008" stroke-width="2.8"/><line x1="17.6" y1="4.2" x2="20.3" y2="4.2" stroke="#c20008" stroke-width="2.8"/></svg><div class="lt" style="left:857.3px">危险值</div><svg class="lgs" style="left:929.1px;top:520px" width="24" height="8"><line x1="0" y1="4.2" x2="10.8" y2="4.2" stroke="#85878c" stroke-width="2.8"/><line x1="17.6" y1="4.2" x2="20.3" y2="4.2" stroke="#85878c" stroke-width="2.8"/></svg><div class="lt" style="left:956px">中位数</div><svg class="lgs" style="left:1026.4px;top:520px" width="24" height="8"><line x1="0" y1="4.2" x2="10.8" y2="4.2" stroke="#1f9e58" stroke-width="2.8"/><line x1="17.6" y1="4.2" x2="20.3" y2="4.2" stroke="#1f9e58" stroke-width="2.8"/></svg><div class="lt" style="left:1052.7px">机会值</div><svg class="lgs" style="left:1125px;top:520px" width="24" height="8"><line x1="0" y1="4.2" x2="10.8" y2="4.2" stroke="#cccccc" stroke-width="2.8"/><line x1="17.6" y1="4.2" x2="20.3" y2="4.2" stroke="#cccccc" stroke-width="2.8"/></svg><div class="lt off" style="left:1151px">标准差<span class="ls">(+1)</span></div><svg class="lgs" style="left:1254.3px;top:520px" width="24" height="8"><line x1="0" y1="4.2" x2="10.8" y2="4.2" stroke="#cccccc" stroke-width="2.8"/><line x1="17.6" y1="4.2" x2="20.3" y2="4.2" stroke="#cccccc" stroke-width="2.8"/></svg><div class="lt off" style="left:1281px">平均值</div><svg class="lgs" style="left:1351.7px;top:520px" width="24" height="8"><line x1="0" y1="4.2" x2="10.8" y2="4.2" stroke="#cccccc" stroke-width="2.8"/><line x1="17.6" y1="4.2" x2="20.3" y2="4.2" stroke="#cccccc" stroke-width="2.8"/></svg><div class="lt off" style="left:1378px">标准差<span class="ls">(-1)</span></div>
</body></html>
